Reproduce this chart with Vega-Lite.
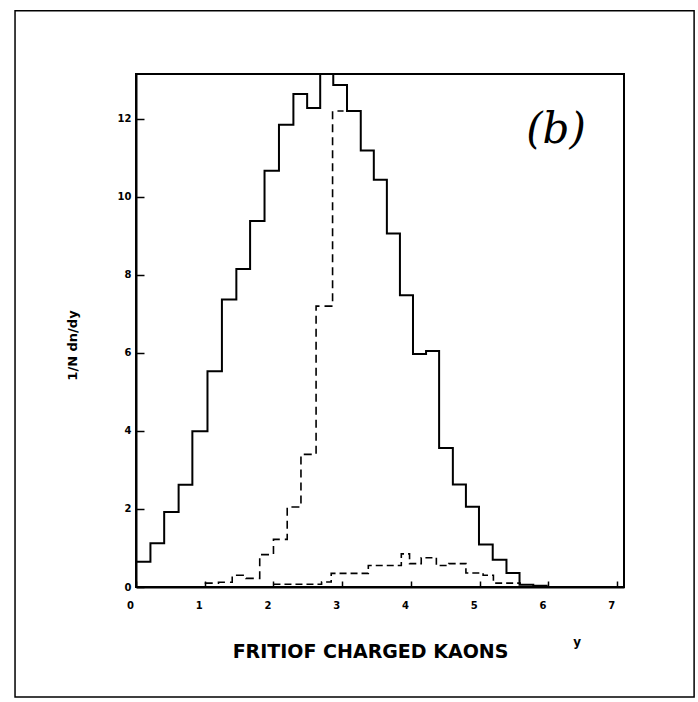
{
  "$schema": "https://vega.github.io/schema/vega-lite/v6.json",
  "width": 488,
  "height": 513,
  "autosize": "none",
  "padding": {"left": 136, "top": 74, "right": 74, "bottom": 115},
  "background": "#ffffff",
  "datasets": {
    "solid": [
      {"x": 0, "v": 0.65}, {"x": 0.21, "v": 1.12}, {"x": 0.41, "v": 1.92}, {"x": 0.62, "v": 2.62},
      {"x": 0.82, "v": 3.99}, {"x": 1.04, "v": 5.53}, {"x": 1.25, "v": 7.37}, {"x": 1.46, "v": 8.15},
      {"x": 1.66, "v": 9.38}, {"x": 1.87, "v": 10.67}, {"x": 2.08, "v": 11.85}, {"x": 2.29, "v": 12.64},
      {"x": 2.49, "v": 12.28}, {"x": 2.68, "v": 14.0}, {"x": 2.87, "v": 12.87}, {"x": 3.07, "v": 12.2},
      {"x": 3.27, "v": 11.19}, {"x": 3.46, "v": 10.44}, {"x": 3.65, "v": 9.06}, {"x": 3.84, "v": 7.48},
      {"x": 4.03, "v": 5.97}, {"x": 4.22, "v": 6.05}, {"x": 4.41, "v": 3.56}, {"x": 4.61, "v": 2.63},
      {"x": 4.8, "v": 2.06}, {"x": 4.99, "v": 1.09}, {"x": 5.19, "v": 0.7}, {"x": 5.39, "v": 0.36},
      {"x": 5.58, "v": 0.06}, {"x": 5.78, "v": 0.03}, {"x": 5.99, "v": 0.03}
    ],
    "dashA": [
      {"x": 1.0, "v": 0.1}, {"x": 1.2, "v": 0.12}, {"x": 1.4, "v": 0.3}, {"x": 1.6, "v": 0.22},
      {"x": 1.8, "v": 0.83}, {"x": 2.0, "v": 1.22}, {"x": 2.2, "v": 2.05}, {"x": 2.4, "v": 3.4},
      {"x": 2.62, "v": 7.2}, {"x": 2.86, "v": 12.2}, {"x": 3.02, "v": 12.2}
    ],
    "dashB": [
      {"x": 2.0, "v": 0.07}, {"x": 2.7, "v": 0.13}, {"x": 2.84, "v": 0.35}, {"x": 3.38, "v": 0.55},
      {"x": 3.86, "v": 0.85}, {"x": 3.98, "v": 0.6}, {"x": 4.15, "v": 0.75}, {"x": 4.37, "v": 0.55},
      {"x": 4.55, "v": 0.6}, {"x": 4.8, "v": 0.36}, {"x": 5.05, "v": 0.3}, {"x": 5.2, "v": 0.1},
      {"x": 5.6, "v": 0.1}
    ]
  },
  "encoding": {
    "x": {
      "type": "quantitative",
      "scale": {"domain": [0, 7.1], "nice": false, "zero": false},
      "title": "FRITIOF CHARGED KAONS",
      "axis": {
        "values": [0, 1, 2, 3, 4, 5, 6, 7], "format": "d",
        "tickSize": -6, "labelPadding": 19, "labelFlush": false, "labelOffset": -6,
        "titleFontSize": 19,
        "titleX": 234, "titleY": 64, "titleBaseline": "middle", "titleAlign": "center"
      }
    },
    "y": {
      "type": "quantitative",
      "scale": {"domain": [0, 13.15], "nice": false},
      "title": "1/N dn/dy",
      "axis": {
        "values": [0, 2, 4, 6, 8, 10, 12], "format": "d",
        "tickSize": -8, "labelPadding": 13, "labelFlush": false,
        "titleFontSize": 13,
        "titleX": -64, "titleY": 271, "titleBaseline": "middle", "titleAlign": "center"
      }
    }
  },
  "layer": [
    {
      "data": {"name": "solid"},
      "mark": {"type": "line", "interpolate": "step-after", "color": "#000", "strokeWidth": 2, "clip": true},
      "encoding": {
        "x": {"field": "x"},
        "y": {"field": "v"}
      }
    },
    {
      "data": {"name": "dashA"},
      "mark": {"type": "line", "interpolate": "step-after", "color": "#000", "strokeWidth": 1.6, "strokeDash": [8, 5], "clip": true},
      "encoding": {
        "x": {"field": "x"},
        "y": {"field": "v"}
      }
    },
    {
      "data": {"name": "dashB"},
      "mark": {"type": "line", "interpolate": "step-after", "color": "#000", "strokeWidth": 1.6, "strokeDash": [7, 4], "clip": true},
      "encoding": {
        "x": {"field": "x"},
        "y": {"field": "v"}
      }
    },
    {
      "data": {"values": [{}]},
      "mark": {"type": "rect", "fill": null, "stroke": "#000", "strokeWidth": 1.5, "clip": false},
      "encoding": {
        "x": {"datum": -1.76},
        "x2": {"datum": 8.12},
        "y": {"datum": 14.77},
        "y2": {"datum": -2.82}
      }
    },
    {
      "data": {"values": [{"label": "(b)"}]},
      "mark": {"type": "text", "font": "DejaVu Serif", "fontStyle": "italic", "fontSize": 42, "color": "#000", "align": "center", "baseline": "middle", "clip": false},
      "encoding": {
        "x": {"datum": 6.11},
        "y": {"datum": 11.72},
        "text": {"field": "label"}
      }
    },
    {
      "data": {"values": [{"label": "y"}]},
      "mark": {"type": "text", "font": "DejaVu Sans", "fontWeight": "bold", "fontSize": 12, "color": "#000", "align": "center", "baseline": "middle", "clip": false},
      "encoding": {
        "x": {"datum": 6.42},
        "y": {"datum": -1.41},
        "text": {"field": "label"}
      }
    }
  ],
  "config": {
    "view": {"stroke": "#000", "strokeWidth": 2},
    "axis": {
      "grid": false, "domainColor": "#000", "domainWidth": 2,
      "tickColor": "#000", "tickWidth": 1.5,
      "labelFont": "DejaVu Sans", "labelFontWeight": "bold", "labelFontSize": 10, "labelColor": "#000",
      "titleFont": "DejaVu Sans", "titleFontWeight": "bold", "titleColor": "#000"
    }
  }
}
